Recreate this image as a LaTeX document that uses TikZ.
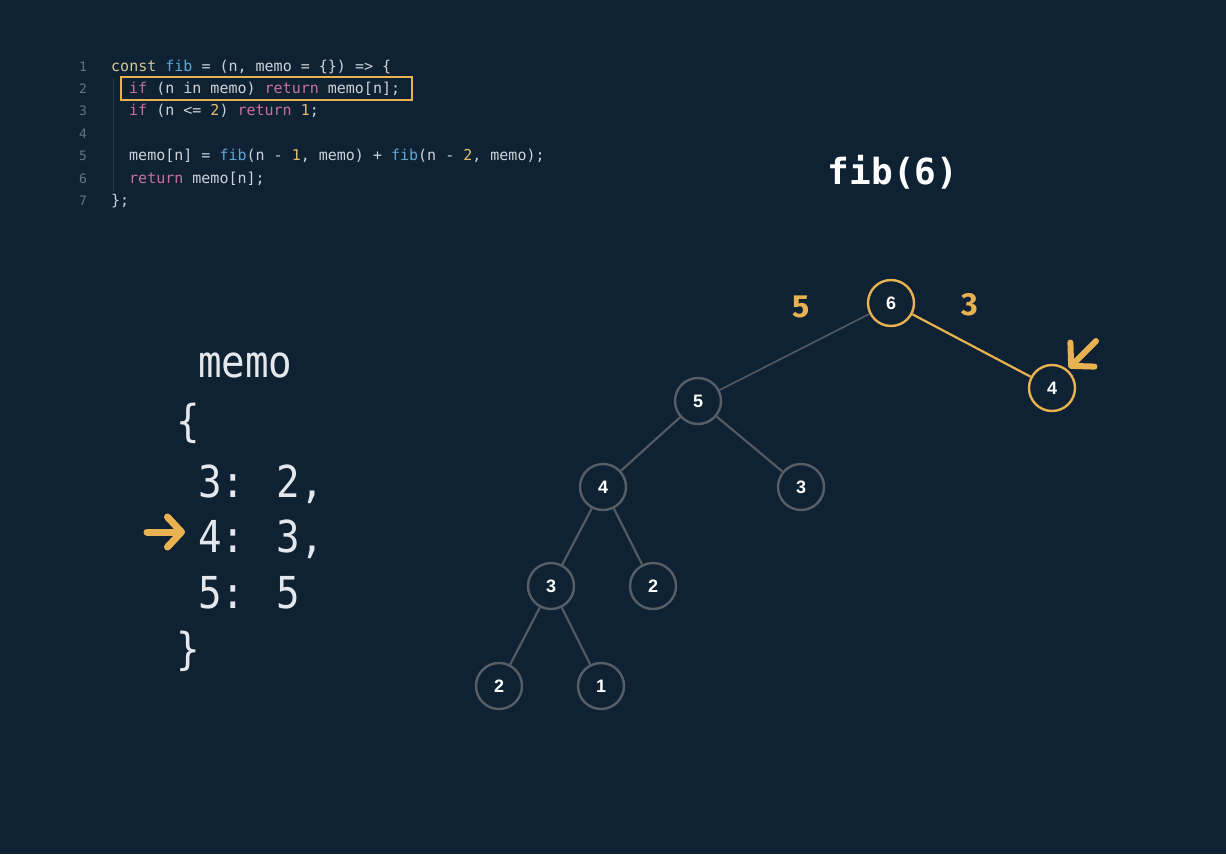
\documentclass[tikz,border=0pt]{standalone}
\usepackage{graphicx}
\usepackage{fontspec}
\setmainfont{Liberation Sans}
\newfontfamily\codefont{DejaVu Sans Mono}
\newfontfamily\labelfont{Fira Sans}
\usetikzlibrary{arrows.meta,positioning}
\definecolor{bg}{RGB}{15,34,52}
\definecolor{gold}{RGB}{232,178,80}
\definecolor{nodegray}{RGB}{88,94,102}
\definecolor{edgegray}{RGB}{84,90,98}
\definecolor{codetext}{RGB}{205,210,216}
\definecolor{numgray}{RGB}{105,115,128}
\definecolor{kwconst}{RGB}{214,198,150}
\definecolor{kwpink}{RGB}{198,112,160}
\definecolor{fnblue}{RGB}{95,165,210}
\definecolor{numyel}{RGB}{224,190,110}
\definecolor{memowhite}{RGB}{228,232,236}
\definecolor{guide}{RGB}{42,58,76}
\tikzset{
  treenode/.style={circle, draw=nodegray, line width=2.4pt, fill=bg, minimum size=46pt, inner sep=0pt,
    text=white, font=\fontsize{18}{18}\selectfont\bfseries},
  hotnode/.style={treenode, draw=gold},
  edge/.style={draw=edgegray, line width=2.2pt},
  hotedge/.style={draw=gold, line width=2.2pt},
  codeline/.style={anchor=base west, inner sep=0pt, text=codetext, font=\codefont\fontsize{15}{18}\selectfont},
  lineno/.style={anchor=base, inner sep=0pt, text=numgray, font=\codefont\fontsize{13}{16}\selectfont},
  memotext/.style={anchor=base west, inner sep=0pt, text=memowhite, font=\codefont\fontsize{44}{48}\selectfont},
  weight/.style={text=gold, inner sep=0pt, font=\labelfont\bfseries\fontsize{32}{32}\selectfont},
  callout/.style={gold, line width=7pt, line cap=round, -{Straight Barb[round,length=14pt,width=30pt]}}
}
\newcommand{\kw}[1]{\textcolor{kwpink}{#1}}
\newcommand{\fn}[1]{\textcolor{fnblue}{#1}}
\newcommand{\nm}[1]{\textcolor{numyel}{#1}}
\newcommand{\memo}[1]{\scalebox{0.89}[1]{#1}}
\begin{document}
\begin{tikzpicture}[x=1pt,y=-1pt]
  \fill[bg] (0,0) rectangle (1226,854);
  \useasboundingbox (0,0) rectangle (1226,854);
  % code listing
  \foreach \i in {1,...,7}{
    \node[lineno] (ln\i) at (83,{71+(\i-1)*22.4}) {\i};}
  \draw[guide, line width=1pt] (113,78) -- (113,192);
  \node[codeline] (c1) at (111,71) {\textcolor{kwconst}{const} \fn{fib} = (n, memo = \{\}) => \{};
  \node[codeline] (c2) at (129,93.4) {\kw{if} (n in memo) \kw{return} memo[n];};
  \node[codeline] (c3) at (129,115.8) {\kw{if} (n <= \nm{2}) \kw{return} \nm{1};};
  \node[codeline] (c5) at (129,160.6) {memo[n] = \fn{fib}(n - \nm{1}, memo) + \fn{fib}(n - \nm{2}, memo);};
  \node[codeline] (c6) at (129,183) {\kw{return} memo[n];};
  \node[codeline] (c7) at (111,205.4) {\};};
  \draw[gold, line width=1.6pt] (121,77) rectangle (412,100);
  % memo object
  \node[memotext] (mtitle) at (198,377) {\memo{memo}};
  \node[memotext] (mopen) at (176,436) {\memo{\{}};
  \node[memotext] (mthree) at (198,497) {\memo{3: 2,}};
  \node[memotext] (mfour) at (198,552) {\memo{4: 3,}};
  \node[memotext] (mfive) at (198,608) {\memo{5: 5}};
  \node[memotext] (mclose) at (176,664) {\memo{\}}};
  \coordinate (ptail) at (147,532);
  \coordinate (phead) at (185,532);
  \draw[callout] (ptail) -- (phead);
  % call tree
  \node[text=white, font=\codefont\bfseries\fontsize{36}{36}\selectfont] (title) at (893,172) {fib(6)};
  \node[hotnode] (six) at (891,303) {6};
  \node[hotnode] (fourR) at (1052,388) {4};
  \node[treenode] (five) at (698,401) {5};
  \node[treenode] (four) at (603,487) {4};
  \node[treenode] (threeR) at (801,487) {3};
  \node[treenode] (three) at (551,586) {3};
  \node[treenode] (two) at (653,586) {2};
  \node[treenode] (twoL) at (499,686) {2};
  \node[treenode] (one) at (601,686) {1};
  \draw[edge, line width=1.6pt] (six) -- (five);
  \draw[hotedge] (six) -- (fourR);
  \draw[edge] (five) -- (four);
  \draw[edge] (five) -- (threeR);
  \draw[edge] (four) -- (three);
  \draw[edge] (four) -- (two);
  \draw[edge] (three) -- (twoL);
  \draw[edge] (three) -- (one);
  \node[weight] (wleft) at (801,307) {5};
  \node[weight] (wright) at (970,305) {3};
  \coordinate (qtail) at (1096,341);
  \coordinate (qhead) at (1069,368);
  \draw[callout, line width=6pt, -{Straight Barb[round,length=16pt,width=34pt]}] (qtail) -- (qhead);
\end{tikzpicture}
\end{document}
